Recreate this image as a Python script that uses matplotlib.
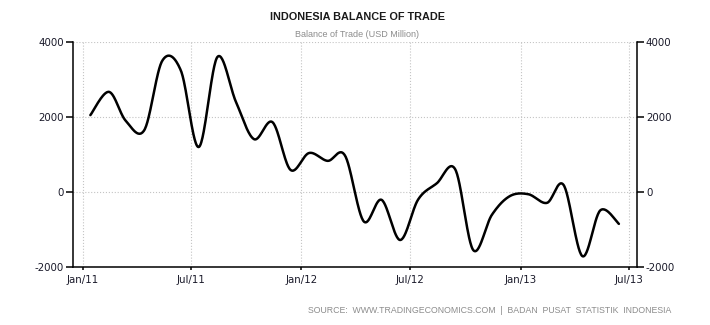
import numpy as np
import pandas as pd
import matplotlib
matplotlib.use("Agg")
import matplotlib.pyplot as plt
import matplotlib.dates as mdates

plt.rcParams['axes.unicode_minus'] = False

# monthly balance of trade, USD million, Jan 2011 - Jun 2013
months = pd.date_range("2011-01-01", periods=30, freq="MS") + pd.Timedelta(days=13)
balance = [2050, 2670, 1900, 1650, 3500, 3240, 1200, 3600, 2400, 1410, 1860, 590,
           1040, 830, 970, -780, -210, -1280, -200, 230, 600, -1550, -610, -110,
           -60, -290, 180, -1710, -490, -850]
yticks = [-2000, 0, 2000, 4000]
xtick_dates = ["2011-01-01", "2011-07-01", "2012-01-01", "2012-07-01", "2013-01-01", "2013-07-01"]


def cardinal(p, steps=30):
    # Catmull-Rom curve through the points (tension 0.5)
    p = np.asarray(p, float)
    m = np.empty_like(p)
    m[1:-1] = (p[2:] - p[:-2]) / 2
    m[0] = (p[1] - p[0]) / 2
    m[-1] = (p[-1] - p[-2]) / 2
    t = np.linspace(0, 1, steps, endpoint=False)
    h00 = 2 * t**3 - 3 * t**2 + 1
    h10 = t**3 - 2 * t**2 + t
    h01 = -2 * t**3 + 3 * t**2
    h11 = t**3 - t**2
    out = [h00 * p[i] + h10 * m[i] + h01 * p[i + 1] + h11 * m[i + 1] for i in range(len(p) - 1)]
    return np.append(np.concatenate(out), p[-1])


xn = mdates.date2num(months.to_pydatetime())
xs = cardinal(xn)
ys = cardinal(balance)

fig = plt.figure(figsize=(7.1, 3.25), dpi=100)
ax = fig.add_axes([0.1028, 0.1785, 0.7942, 0.6923])
ax.plot(xs, ys, color="black", lw=1.8, solid_capstyle="round", zorder=3)

ax.set_xlim(mdates.date2num(pd.Timestamp("2010-12-16")), mdates.date2num(pd.Timestamp("2013-07-14")))
ax.set_ylim(-2000, 4000)
ax.set_yticks(yticks)
ax.set_xticks(mdates.date2num(pd.to_datetime(xtick_dates).to_pydatetime()))
ax.xaxis.set_major_formatter(mdates.DateFormatter("%b/%y"))

ax.grid(True, color="#c4c4c4", linestyle=":", linewidth=0.8)
ax.spines["top"].set_visible(False)
for s in ["left", "right", "bottom"]:
    ax.spines[s].set_linewidth(1.1)
ax.tick_params(axis="y", left=True, right=True, labelleft=True, labelright=True,
               length=5, width=1.1, labelsize=7.4, pad=1.5, labelcolor="#1a1a2a")
ax.tick_params(axis="x", length=2.5, width=1.1, labelsize=7.4, pad=3.5, labelcolor="#1a1a2a")

fig.text(0.503, 0.947, "INDONESIA BALANCE OF TRADE", ha="center", va="center",
         fontsize=7.8, fontweight="bold", family="Liberation Sans", color="#1a1a1a")
fig.text(0.503, 0.895, "Balance of Trade (USD Million)", ha="center", va="center",
         fontsize=6.5, family="Liberation Sans", color="#8c8c8c")
fig.text(0.945, 0.046, "SOURCE:  WWW.TRADINGECONOMICS.COM  |  BADAN  PUSAT  STATISTIK  INDONESIA",
         ha="right", va="center", fontsize=6.3, family="Liberation Sans", color="#8c8c8c")

fig.savefig("out.png", dpi=100)
